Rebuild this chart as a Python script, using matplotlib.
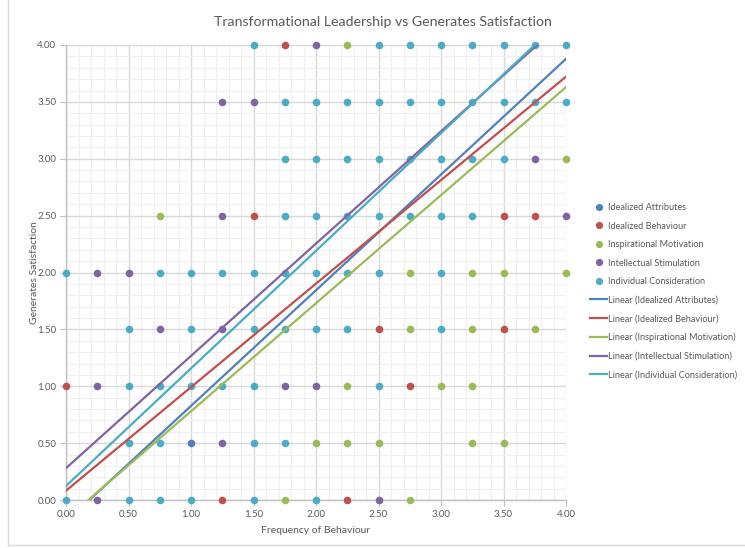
import matplotlib
matplotlib.use("Agg")
import matplotlib.pyplot as plt
from matplotlib.lines import Line2D
from matplotlib.ticker import MultipleLocator, FormatStrFormatter
import numpy as np

plt.rcParams['font.family'] = ['Lato', 'DejaVu Sans']

# Series: (frequency of behaviour, generates satisfaction)
series_names = ["Idealized Attributes", "Idealized Behaviour", "Inspirational Motivation",
                "Intellectual Stimulation", "Individual Consideration"]
series_colors = ["#4F81BD", "#C0504D", "#9BBB59", "#8064A2", "#4BACC6"]

attributes_x = [1.0]
attributes_y = [0.5]

behaviour_x = [1.75, 1.5, 3.5, 3.75, 2.5, 3.5, 0.0, 2.75, 1.25, 2.25]
behaviour_y = [4.0, 2.5, 2.5, 2.5, 1.5, 1.5, 1.0, 1.0, 0.0, 0.0]

motivation_x = [2.25, 4.0, 0.75, 2.75, 3.25, 3.5, 4.0, 2.75, 3.25, 3.75,
                2.25, 3.0, 3.25, 2.0, 2.25, 2.5, 3.25, 3.5, 1.75, 2.75]
motivation_y = [4.0, 3.0, 2.5, 2.0, 2.0, 2.0, 2.0, 1.5, 1.5, 1.5,
                1.0, 1.0, 1.0, 0.5, 0.5, 0.5, 0.5, 0.5, 0.0, 0.0]

stimulation_x = [2.0, 1.25, 1.5, 3.75, 1.25, 4.0, 0.25, 0.5, 0.75, 1.25,
                 0.25, 1.75, 2.0, 1.25, 0.25, 2.5]
stimulation_y = [4.0, 3.5, 3.5, 3.0, 2.5, 2.5, 2.0, 2.0, 1.5, 1.5,
                 1.0, 1.0, 1.0, 0.5, 0.0, 0.0]

consideration_x = [1.5, 2.5, 2.75, 3.0, 3.25, 3.5, 3.75, 4.0,
                   1.75, 2.0, 2.25, 2.5, 2.75, 3.0, 3.25, 3.5, 3.75, 4.0,
                   1.75, 2.0, 2.25, 2.5, 2.75, 3.0, 3.25, 3.5,
                   1.75, 2.0, 2.25, 2.5, 2.75, 3.0, 3.25,
                   0.0, 0.75, 1.0, 1.25, 1.5, 1.75, 2.0, 2.25, 2.5, 3.0,
                   0.5, 1.0, 1.5, 1.75, 2.0, 2.25, 3.0,
                   0.5, 0.75, 1.0, 1.25, 1.5, 2.5,
                   0.5, 0.75, 1.5, 1.75,
                   0.0, 0.5, 0.75, 1.0, 1.5, 2.0]
consideration_y = [4.0] * 8 + [3.5] * 10 + [3.0] * 8 + [2.5] * 7 + [2.0] * 10 \
    + [1.5] * 7 + [1.0] * 6 + [0.5] * 4 + [0.0] * 6

# Linear trendline coefficients (slope, intercept) per series
trend_slopes = [1.017, 0.910, 0.950, 0.987, 1.034]
trend_intercepts = [-0.19, 0.082, -0.17, 0.28, 0.123]

xs = [attributes_x, behaviour_x, motivation_x, stimulation_x, consideration_x]
ys = [attributes_y, behaviour_y, motivation_y, stimulation_y, consideration_y]

fig = plt.figure(figsize=(7.45, 5.48), dpi=100)
ax = fig.add_axes([66 / 745, 1 - 500 / 548, 500 / 745, 455 / 548])

for x, y, c in zip(xs, ys, series_colors):
    ax.scatter(x, y, s=30, color=c, zorder=3, linewidths=0, clip_on=False)

line_x = np.array([0.0, 4.0])
for m, b, c in zip(trend_slopes, trend_intercepts, series_colors):
    ax.plot(line_x, m * line_x + b, color=c, lw=1.6, zorder=4)

ax.set_xlim(0, 4)
ax.set_ylim(0, 4)
ax.xaxis.set_major_locator(MultipleLocator(0.5))
ax.yaxis.set_major_locator(MultipleLocator(0.5))
ax.xaxis.set_minor_locator(MultipleLocator(0.1))
ax.yaxis.set_minor_locator(MultipleLocator(0.1))
ax.xaxis.set_major_formatter(FormatStrFormatter('%.2f'))
ax.yaxis.set_major_formatter(FormatStrFormatter('%.2f'))
ax.grid(which='major', color='#D9D9D9', lw=1.0, zorder=0)
ax.grid(which='minor', color='#F0F0F0', lw=0.8, zorder=0)
ax.set_axisbelow(True)

for side in ['top', 'right']:
    ax.spines[side].set_visible(False)
for side in ['left', 'bottom']:
    ax.spines[side].set_color('#BFBFBF')
    ax.spines[side].set_linewidth(1.0)
ax.tick_params(which='major', length=4, color='#BFBFBF', labelsize=7, labelcolor='#595959', pad=3)
ax.tick_params(which='minor', length=0)

ax.set_xlabel("Frequency of Behaviour", fontsize=7.5, color='#595959', labelpad=5)
ax.set_ylabel("Generates Satisfaction", fontsize=7.5, color='#595959', labelpad=-1)
fig.text(383 / 745, 1 - 22 / 548, "Transformational Leadership vs Generates Satisfaction",
         ha='center', va='center', fontsize=10.2, color='#595959')

handles = []
for name, c in zip(series_names, series_colors):
    handles.append(Line2D([], [], ls='none', marker='o', markersize=5.2,
                          markerfacecolor=c, markeredgewidth=0, label=name))
for name, c in zip(series_names, series_colors):
    handles.append(Line2D([], [], color=c, lw=1.6, label="Linear (" + name + ")"))
fig.legend(handles=handles, loc='upper left', bbox_to_anchor=(590 / 745, 1 - 203 / 548),
           frameon=False, fontsize=6.6, labelcolor='#595959', handlelength=1.9,
           handletextpad=0.1, labelspacing=1.04, borderaxespad=0, borderpad=0)

# chart area border
fig.add_artist(Line2D([8 / 745, 8 / 745], [3 / 548, 1.0], color='#D9D9D9', lw=1.0))
fig.add_artist(Line2D([8 / 745, 1.0], [3 / 548, 3 / 548], color='#D9D9D9', lw=1.0))

fig.savefig("out.png", dpi=100)
